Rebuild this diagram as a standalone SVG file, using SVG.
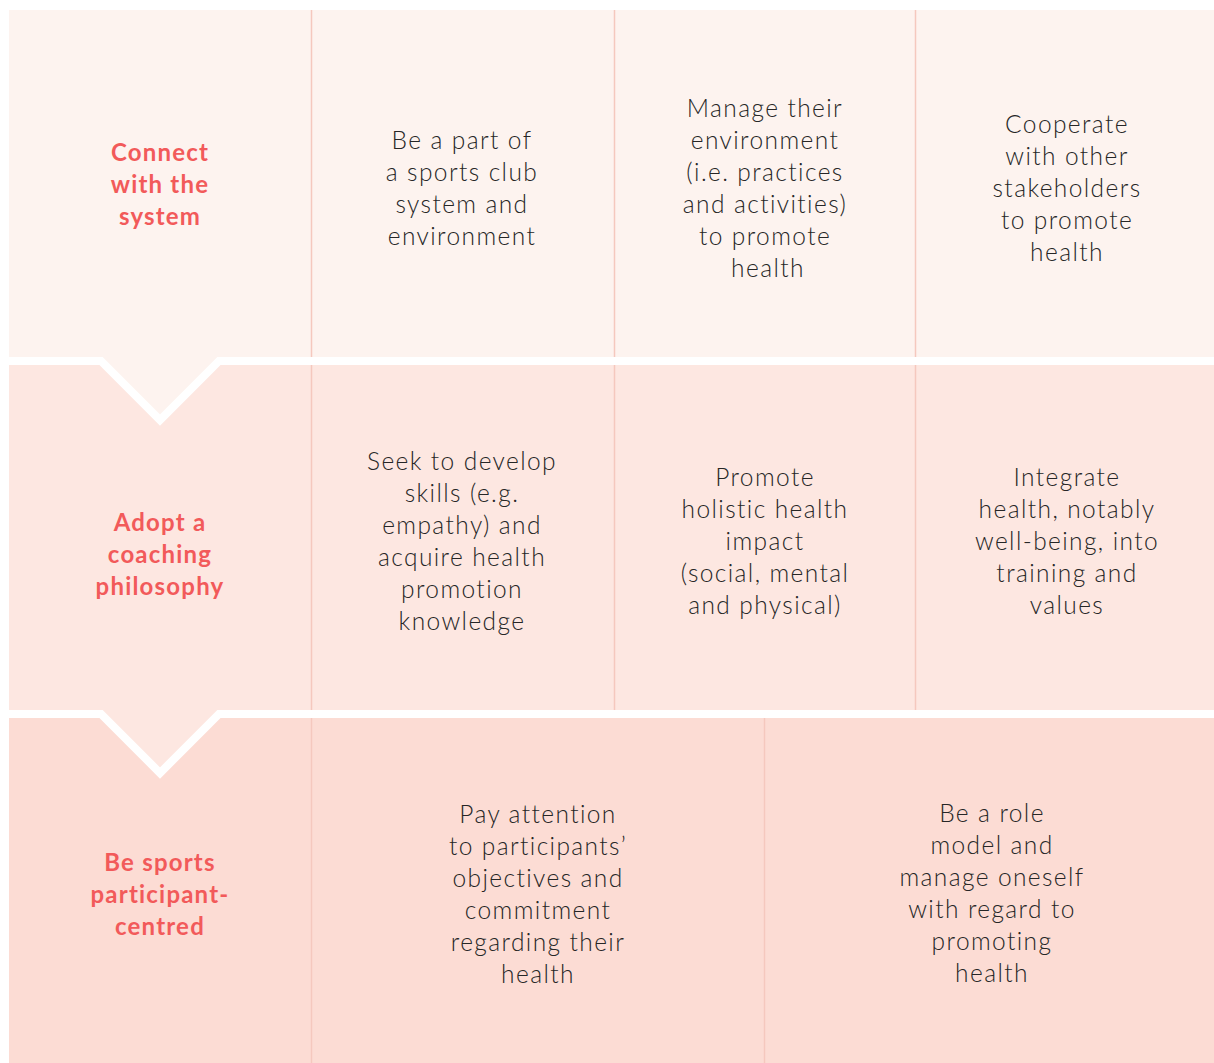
<svg xmlns="http://www.w3.org/2000/svg" width="1214" height="1063" viewBox="0 0 1214 1063">
<style>
.head{font-family:Lato,"Liberation Sans",sans-serif;font-weight:700;font-size:24px;fill:#F25A5A;text-anchor:middle;letter-spacing:1.2px}
.body{font-family:Lato,"Liberation Sans",sans-serif;font-weight:300;font-size:24.5px;fill:#262626;text-anchor:middle;letter-spacing:1.4px}
.div{stroke:#F5C8BE;stroke-width:1.5}
.gap{fill:none;stroke:#FFFFFF;stroke-width:8}
</style>
<rect width="1214" height="1063" fill="#FFFFFF"/>
<g id="rows">
<rect id="row3" x="9" y="714" width="1205" height="349" fill="#FCDCD4"/>
<polygon id="row2" points="9,361 1214,361 1214,714 219,714 160,773 101,714 9,714" fill="#FDE7E1"/>
<polygon id="row1" points="9,10 1214,10 1214,361 219,361 160,420 101,361 9,361" fill="#FDF3EF"/>
<polyline class="gap" points="9,361 101,361 160,420 219,361 1214,361"/>
<polyline class="gap" points="9,714 101,714 160,773 219,714 1214,714"/>
</g>
<g id="connectors">
<line class="div" x1="311.5" y1="10" x2="311.5" y2="357"/>
<line class="div" x1="614.5" y1="10" x2="614.5" y2="357"/>
<line class="div" x1="915.5" y1="10" x2="915.5" y2="357"/>
<line class="div" x1="311.5" y1="365" x2="311.5" y2="710"/>
<line class="div" x1="614.5" y1="365" x2="614.5" y2="710"/>
<line class="div" x1="915.5" y1="365" x2="915.5" y2="710"/>
<line class="div" x1="311.5" y1="718" x2="311.5" y2="1063"/>
<line class="div" x1="764.5" y1="718" x2="764.5" y2="1063"/>
</g>
<g id="h1"><text class="head"><tspan x="160" y="161">Connect</tspan><tspan x="160" y="193">with the</tspan><tspan x="160" y="225">system</tspan></text></g>
<g id="r1c1"><text class="body"><tspan x="462" y="149">Be a part of</tspan><tspan x="462" y="181">a sports club</tspan><tspan x="462" y="213">system and</tspan><tspan x="462" y="245">environment</tspan></text></g>
<g id="r1c2"><text class="body"><tspan x="765" y="117">Manage their</tspan><tspan x="765" y="149">environment</tspan><tspan x="765" y="181">(i.e. practices</tspan><tspan x="765" y="213">and activities)</tspan><tspan x="765" y="245">to promote</tspan><tspan x="768" y="277">health</tspan></text></g>
<g id="r1c3"><text class="body"><tspan x="1067" y="133">Cooperate</tspan><tspan x="1067" y="165">with other</tspan><tspan x="1067" y="197">stakeholders</tspan><tspan x="1067" y="229">to promote</tspan><tspan x="1067" y="261">health</tspan></text></g>
<g id="h2"><text class="head"><tspan x="160" y="531">Adopt a</tspan><tspan x="160" y="563">coaching</tspan><tspan x="160" y="595">philosophy</tspan></text></g>
<g id="r2c1"><text class="body"><tspan x="462" y="470">Seek to develop</tspan><tspan x="462" y="502">skills (e.g.</tspan><tspan x="462" y="534">empathy) and</tspan><tspan x="462" y="566">acquire health</tspan><tspan x="462" y="598">promotion</tspan><tspan x="462" y="630">knowledge</tspan></text></g>
<g id="r2c2"><text class="body"><tspan x="765" y="486">Promote</tspan><tspan x="765" y="518">holistic health</tspan><tspan x="765" y="550">impact</tspan><tspan x="765" y="582">(social, mental</tspan><tspan x="765" y="614">and physical)</tspan></text></g>
<g id="r2c3"><text class="body"><tspan x="1067" y="486">Integrate</tspan><tspan x="1067" y="518">health, notably</tspan><tspan x="1067" y="550">well-being, into</tspan><tspan x="1067" y="582">training and</tspan><tspan x="1067" y="614">values</tspan></text></g>
<g id="h3"><text class="head"><tspan x="160" y="871">Be sports</tspan><tspan x="160" y="903">participant-</tspan><tspan x="160" y="935">centred</tspan></text></g>
<g id="r3c1"><text class="body"><tspan x="538" y="823">Pay attention</tspan><tspan x="538" y="855">to participants’</tspan><tspan x="538" y="887">objectives and</tspan><tspan x="538" y="919">commitment</tspan><tspan x="538" y="951">regarding their</tspan><tspan x="538" y="983">health</tspan></text></g>
<g id="r3c2"><text class="body"><tspan x="992" y="822">Be a role</tspan><tspan x="992" y="854">model and</tspan><tspan x="992" y="886">manage oneself</tspan><tspan x="992" y="918">with regard to</tspan><tspan x="992" y="950">promoting</tspan><tspan x="992" y="982">health</tspan></text></g>
</svg>
